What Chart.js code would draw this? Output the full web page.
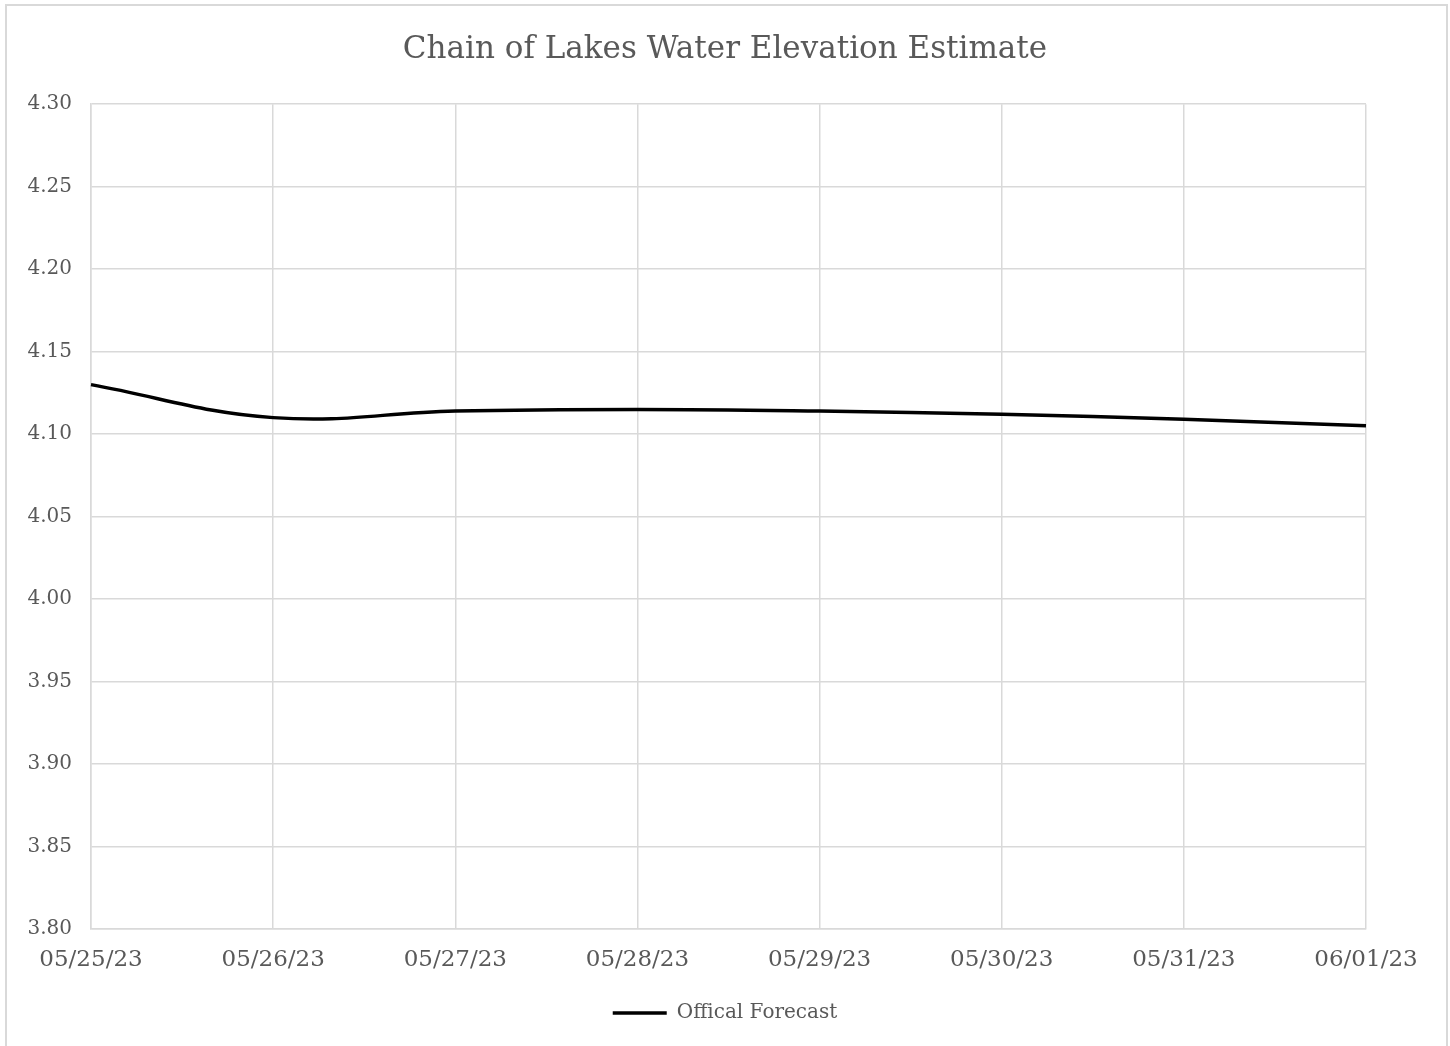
<!DOCTYPE html>
<html>
<head>
<meta charset="utf-8">
<script src="https://cdn.jsdelivr.net/npm/chart.js@4.4.0/dist/chart.umd.min.js"></script>
<style>
  html, body { margin: 0; padding: 0; background: #fff; overflow: hidden; }
  #wrap { position: absolute; left: 0; top: 0; width: 1450px; height: 1046px; }
  #frame { position: absolute; left: 5px; top: 4px; width: 1443px; height: 1100px; border: 2px solid #d9d9d9; box-sizing: border-box; }
  canvas { position: absolute; left: 0; top: 0; }
</style>
</head>
<body>
<div id="wrap">
  <div id="frame"></div>
  <canvas id="c" width="1450" height="1046"></canvas>
</div>
<script>
const categories = ['05/25/23', '05/26/23', '05/27/23', '05/28/23', '05/29/23', '05/30/23', '05/31/23', '06/01/23'];
const forecastValues = [4.130, 4.110, 4.114, 4.115, 4.114, 4.112, 4.109, 4.105];
const yTickValues = [3.80, 3.85, 3.90, 3.95, 4.00, 4.05, 4.10, 4.15, 4.20, 4.25, 4.30];
const titleText = 'Chain of Lakes Water Elevation Estimate';
const seriesName = 'Offical Forecast';

const gray = '#595959';
const gridColor = '#d9d9d9';
const serif = '"DejaVu Serif", "Liberation Serif", serif';

new Chart(document.getElementById('c'), {
  type: 'line',
  data: {
    labels: categories,
    datasets: [{
      label: seriesName,
      data: forecastValues,
      borderColor: '#000000',
      backgroundColor: '#000000',
      borderWidth: 3.5,
      pointRadius: 0,
      pointStyle: 'line',
      tension: 0.4,
      fill: false,
      yAxisID: 'y'
    }]
  },
  options: {
    responsive: false,
    animation: false,
    devicePixelRatio: 1,
    layout: { padding: { left: 0, right: 0, top: 0, bottom: 13 } },
    plugins: {
      title: {
        display: true,
        text: titleText,
        color: gray,
        font: { family: serif, size: 31, weight: 'normal' },
        padding: { top: 31, bottom: 36 }
      },
      legend: {
        display: true,
        position: 'bottom',
        labels: {
          usePointStyle: true,
          pointStyle: 'line',
          pointStyleWidth: 54,
          boxWidth: 54,
          color: gray,
          font: { family: serif, size: 20 },
          padding: 10
        }
      },
      tooltip: { enabled: false }
    },
    scales: {
      x: {
        type: 'category',
        offset: false,
        grid: { color: gridColor, lineWidth: 1.5, drawTicks: false },
        border: { color: gridColor, width: 1.5 },
        ticks: {
          color: gray,
          font: { family: serif, size: 23 },
          padding: 17,
          maxRotation: 0,
          autoSkip: false
        },
        afterFit: (s) => { s.height = 64; }
      },
      y: {
        position: 'left',
        min: 3.80,
        max: 4.30,
        afterBuildTicks: (s) => { s.ticks = yTickValues.map(v => ({ value: v })); },
        grid: { color: gridColor, lineWidth: 1.5, drawTicks: false },
        border: { color: gridColor, width: 1.5 },
        ticks: {
          color: gray,
          font: { family: serif, size: 20 },
          padding: 19,
          callback: (v) => Number(v).toFixed(2)
        },
        afterFit: (s) => { s.width = 91; }
      },
      ySpacer: {
        position: 'right',
        min: 3.80,
        max: 4.30,
        grid: { display: false, drawTicks: false },
        border: { display: false },
        ticks: { display: false },
        afterFit: (s) => { s.width = 84; }
      }
    }
  }
});
</script>
</body>
</html>
